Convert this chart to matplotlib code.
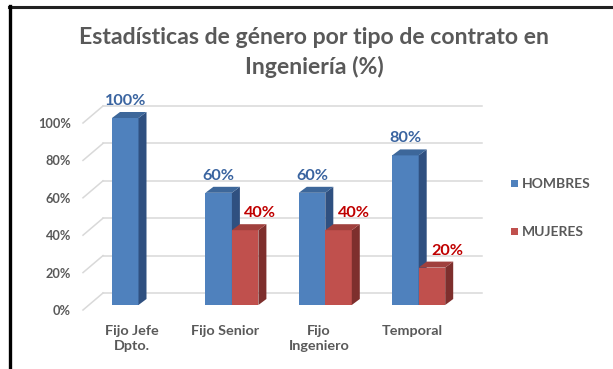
import matplotlib
matplotlib.use("Agg")
import matplotlib.pyplot as plt
from matplotlib.patches import Polygon, Rectangle
from matplotlib.lines import Line2D
import numpy as np

# ---- data ----
categories = ["Fijo Jefe\nDpto.", "Fijo Senior", "Fijo\nIngeniero", "Temporal"]
hombres = [100, 60, 60, 80]
mujeres = [None, 40, 40, 20]
series_names = ["HOMBRES", "MUJERES"]
y_ticks = [0, 20, 40, 60, 80, 100]
title = "Estadísticas de género por tipo de contrato en\nIngeniería (%)"

# ---- style ----
FONT = "Lato"
TXT = "#595959"
FACE = {"HOMBRES": ("#4F81BD", "#3D679A", "#2F5080"),
        "MUJERES": ("#C0504D", "#A0403D", "#7E2F2D")}
LABEL_COL = {"HOMBRES": "#3A64A0", "MUJERES": "#C00000"}
GRID = "#D9D9D9"

W, H, DPI = 613, 369, 100
fig = plt.figure(figsize=(W / DPI, H / DPI), dpi=DPI)
fig.patch.set_facecolor("white")

# pixel geometry of the plot area
X0PX, XSTEP = 138.5, 93.4      # first category center, spacing (px)
Y0PX, YSCALE = 305.0, 1.87     # baseline (px), px per percent
xlim = (-0.62, 3.72)
ylim = (-10, 110)
left_px = X0PX + xlim[0] * XSTEP
right_px = X0PX + xlim[1] * XSTEP
bot_px = Y0PX - ylim[0] * YSCALE
top_px = Y0PX - ylim[1] * YSCALE
ax = fig.add_axes([left_px / W, 1 - bot_px / H,
                   (right_px - left_px) / W, (bot_px - top_px) / H])
ax.set_xlim(*xlim)
ax.set_ylim(*ylim)
ax.axis("off")

px_x = 1 / XSTEP      # one pixel in x data units
px_y = 1 / YSCALE     # one pixel in y data units

# depth of bars and of back wall
bdx, bdy = 8 * px_x, 6 * px_y
wall_dy = 12 * px_y
floor_fx, floor_fy = (83 - 103) * px_x, -5 * px_y
wall_x0 = (103 - X0PX) * px_x
wall_x1 = (482 - X0PX) * px_x

# gridlines on the back wall plus the slanted floor edge
for v in y_ticks:
    ax.add_line(Line2D([wall_x0, wall_x1], [v + wall_dy, v + wall_dy],
                       color=GRID, lw=1.1, zorder=1))
    ax.add_line(Line2D([wall_x0 + floor_fx, wall_x0], [v + floor_fy, v + wall_dy],
                       color=GRID, lw=1.1, zorder=1, clip_on=False))
    ax.text((71 - X0PX) * px_x, v - 3.2, f"{v}%", ha="right", va="center",
            fontsize=9.2, fontweight="bold", color=TXT, family=FONT, clip_on=False)

x = np.arange(len(categories))
bw = 26.5 * px_x


def draw_bar(x0, val, name, z):
    front, top, side = FACE[name]
    ax.bar(x0, val, width=bw, align="edge", color=front, linewidth=0, zorder=z)
    ax.add_patch(Polygon([(x0 + bw, 0), (x0 + bw + bdx, bdy),
                          (x0 + bw + bdx, val + bdy), (x0 + bw, val)],
                         closed=True, facecolor=side, edgecolor="none", zorder=z))
    ax.add_patch(Polygon([(x0, val), (x0 + bdx, val + bdy),
                          (x0 + bw + bdx, val + bdy), (x0 + bw, val)],
                         closed=True, facecolor=top, edgecolor="none", zorder=z))


for i in range(len(categories)):
    h = hombres[i]
    m = mujeres[i]
    draw_bar(x[i] - bw, h, "HOMBRES", 3 + 2 * i)
    ax.text(x[i] - bw / 2, h + 17 * px_y, f"{h}%", ha="center", va="center",
            fontsize=11.7, fontweight="bold", color=LABEL_COL["HOMBRES"],
            family=FONT, zorder=20)
    if m is not None:
        draw_bar(x[i], m, "MUJERES", 4 + 2 * i)
        ax.text(x[i] + bw / 2 + 15 * px_x, m + 17 * px_y, f"{m}%", ha="center",
                va="center", fontsize=11.7, fontweight="bold",
                color=LABEL_COL["MUJERES"], family=FONT, zorder=20)

# category labels
for i, c in enumerate(categories):
    ax.text(x[i] - 6.5 * px_x, -10.5, c, ha="center", va="top", fontsize=10.4,
            fontweight="bold", color=TXT, family=FONT, linespacing=1.35,
            clip_on=False)

# legend
for j, name in enumerate(series_names):
    cy = 183.5 + 48 * j
    fig.patches.append(Rectangle(((511) / W, 1 - (cy + 3.5) / H), 7 / W, 7 / H,
                                 transform=fig.transFigure,
                                 facecolor=FACE[name][0], edgecolor="none"))
    fig.text(522 / W, 1 - cy / H, name, ha="left", va="center", fontsize=10.0,
             fontweight="bold", color=TXT, family=FONT)

# title
fig.text(314 / W, 1 - 52.5 / H, title, ha="center", va="center", fontsize=16.6,
         fontweight="bold", color=TXT, family=FONT, linespacing=1.4)

# frame lines along top and left edges
fig.add_artist(Line2D([8.5 / W, 1], [1 - 7 / H, 1 - 7 / H], color="#222222",
                      lw=2.2, transform=fig.transFigure))
fig.add_artist(Line2D([9.5 / W, 9.5 / W], [0, 1 - 6 / H], color="black",
                      lw=2.4, transform=fig.transFigure))

fig.savefig("out.png", dpi=DPI)
